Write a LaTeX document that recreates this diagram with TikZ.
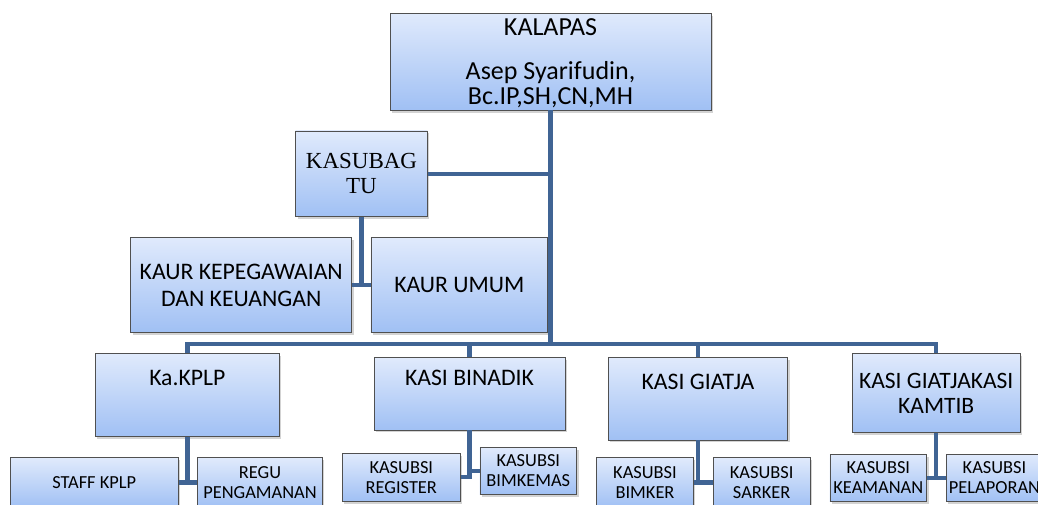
\documentclass[tikz,border=0pt]{standalone}
\usepackage{fontspec}
\setmainfont{Carlito}
\newfontfamily\serifbox{Liberation Serif}
\usetikzlibrary{shadows}
\definecolor{link1}{RGB}{64,100,148}
\definecolor{boxtop}{RGB}{224,234,252}
\definecolor{boxbot}{RGB}{160,192,244}
\definecolor{boxline}{RGB}{80,80,80}

\begin{document}
\begin{tikzpicture}[x=1pt, y=-1pt,
  orgbox/.style={rectangle, draw=boxline, line width=0.8pt, top color=boxtop,
    bottom color=boxbot, inner sep=0pt, align=center,
    drop shadow={shadow xshift=2pt, shadow yshift=-2.5pt, opacity=0.35}},
  bigtext/.style={font=\fontsize{23.7}{27}\selectfont},
  smalltext/.style={font=\fontsize{18.4}{20}\selectfont},
  raisedtext/.style={text height=16pt, text depth=#1},
  link/.style={draw=link1, line width=4.5pt}]
  \useasboundingbox (0,0) rectangle (1038,504);

  \node[orgbox, minimum width=321pt, minimum height=97pt, text depth=-2pt,
    font=\fontsize{26}{25}\selectfont] (kalapas) at (550.5,61.5)
    {KALAPAS\\[19pt]Asep Syarifudin,\\Bc.IP,SH,CN,MH};
  \node[orgbox, minimum width=131.6pt, minimum height=85.7pt,
    font=\serifbox\fontsize{23}{25}\selectfont] (kasubag) at (361.5,173.8)
    {KASUBAG\\TU};

  \node[orgbox, bigtext, minimum width=221pt, minimum height=95.4pt] (kaurkeu)
    at (241.2,285) {KAUR KEPEGAWAIAN\\DAN KEUANGAN};
  \node[orgbox, bigtext, minimum width=176.7pt, minimum height=95pt] (kaurumum)
    at (459.3,285.2) {KAUR UMUM};

  \node[orgbox, bigtext, raisedtext=36pt, minimum width=184pt, minimum height=83.4pt]
    (kplp) at (187.3,395) {Ka.KPLP};
  \node[orgbox, bigtext, raisedtext=33.6pt, minimum width=191pt, minimum height=72.3pt]
    (binadik) at (469.5,393.8) {KASI BINADIK};
  \node[orgbox, bigtext, raisedtext=35pt, minimum width=179.4pt, minimum height=82.3pt]
    (giatja) at (698,398.8) {KASI GIATJA};
  \node[orgbox, font=\fontsize{23.5}{25}\selectfont, minimum width=167.7pt,
    minimum height=79.4pt] (kamtib) at (936.2,393) {KASI GIATJAKASI\\KAMTIB};

  \node[orgbox, smalltext, minimum width=168.3pt, minimum height=50pt] (staff)
    at (94.2,482.7) {STAFF KPLP};
  \node[orgbox, smalltext, minimum width=124.6pt, minimum height=50pt] (regu)
    at (260,482.7) {REGU\\PENGAMANAN};
  \node[orgbox, smalltext, minimum width=118pt, minimum height=47.7pt] (register)
    at (401.3,477.2) {KASUBSI\\REGISTER};
  \node[orgbox, smalltext, minimum width=96.7pt, minimum height=46.3pt] (bimkemas)
    at (528.3,470.9) {KASUBSI\\BIMKEMAS};
  \node[orgbox, smalltext, minimum width=96.6pt, minimum height=50pt] (bimker)
    at (645,482.7) {KASUBSI\\BIMKER};
  \node[orgbox, smalltext, minimum width=96.7pt, minimum height=50pt] (sarker)
    at (761.7,482.7) {KASUBSI\\SARKER};
  \node[orgbox, smalltext, minimum width=96.7pt, minimum height=47.4pt] (keamanan)
    at (878.3,478) {KASUBSI\\KEAMANAN};
  \node[orgbox, smalltext, minimum width=97pt, minimum height=47.4pt,
    text width=97pt] (pelaporan) at (994.5,478) {KASUBSI\\PELAPORAN};

  \coordinate (bus) at (550.5,344);
  \draw[link] (kalapas.south) -- (bus);
  \draw[link] (kasubag.east) -- (kasubag.east -| bus);
  \draw[link] (kplp.north) -- (kplp.north |- bus) -- (kamtib.north |- bus) -- (kamtib.north);
  \foreach \n in {binadik, giatja}
    \draw[link] (\n.north) -- (\n.north |- bus);
  \foreach \top/\l/\r in {kasubag/kaurkeu/kaurumum, kplp/staff/regu,
      binadik/register/bimkemas, giatja/bimker/sarker, kamtib/keamanan/pelaporan}{
    \draw[link] (\top.south) |- (\l.east);
    \draw[link] (\r.west) -- (\r.west -| \top.south);
  }
\end{tikzpicture}
\end{document}
